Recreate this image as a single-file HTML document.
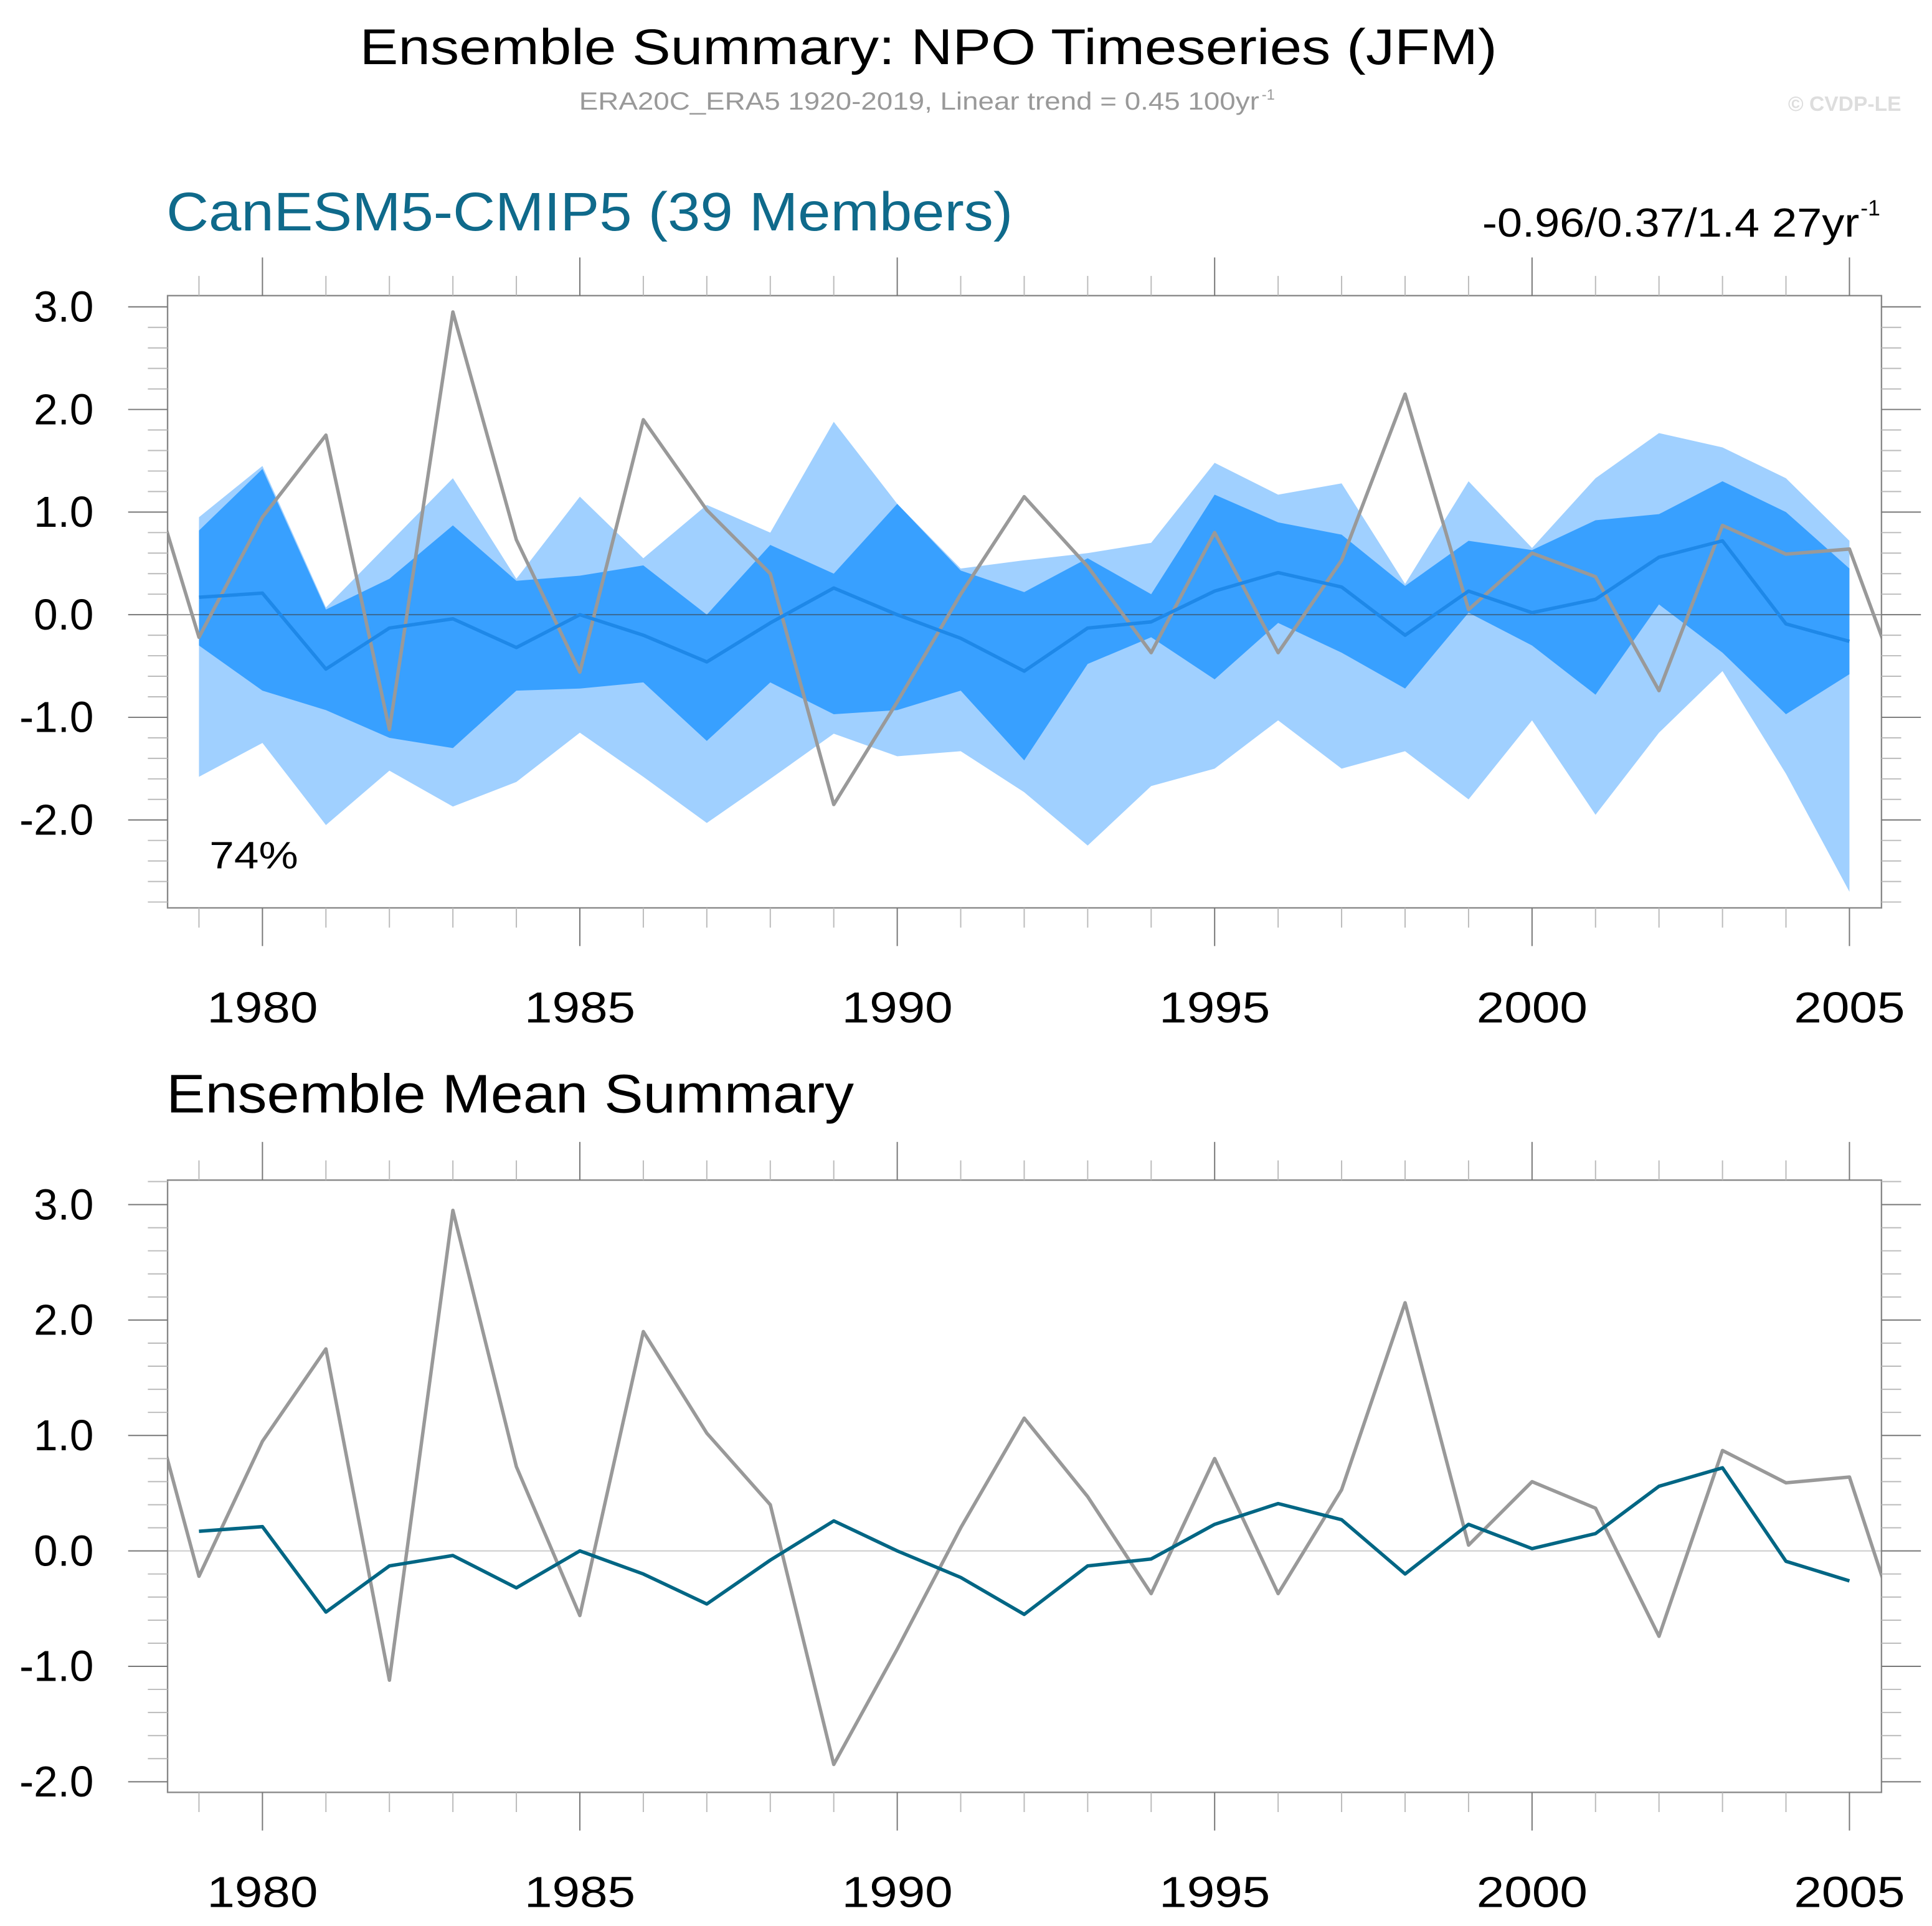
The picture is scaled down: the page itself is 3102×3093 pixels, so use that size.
<!DOCTYPE html>
<html><head><meta charset="utf-8"><style>
html,body{margin:0;padding:0;background:#fff}
svg{display:block}
text{font-family:"Liberation Sans",sans-serif}
</style></head><body>
<svg id="chart" width="3102" height="3093" viewBox="0 0 1568 1563.5" preserveAspectRatio="none" xmlns="http://www.w3.org/2000/svg">
<text x="292" y="52" font-size="41" textLength="923" lengthAdjust="spacingAndGlyphs">Ensemble Summary: NPO Timeseries (JFM)</text>
<text x="470" y="89" font-size="20" fill="#999" textLength="552" lengthAdjust="spacingAndGlyphs">ERA20C_ERA5 1920-2019, Linear trend = 0.45 100yr</text>
<text x="1024" y="81" font-size="12" fill="#999">-1</text>
<text x="1543" y="90" font-size="17" font-weight="bold" fill="#ddd" text-anchor="end">© CVDP-LE</text>
<text x="135" y="187" font-size="44" fill="#0f6a8b" textLength="687" lengthAdjust="spacingAndGlyphs">CanESM5-CMIP5 (39 Members)</text>
<text x="1203" y="192" font-size="33" textLength="306" lengthAdjust="spacingAndGlyphs">-0.96/0.37/1.4 27yr</text>
<text x="1510" y="175" font-size="18">-1</text>
<text x="135" y="903" font-size="44" textLength="558" lengthAdjust="spacingAndGlyphs">Ensemble Mean Summary</text>
<g id="top"></g>
<g id="bot"></g>
</svg>
<script>
const years = [1979,1980,1981,1982,1983,1984,1985,1986,1987,1988,1989,1990,1991,1992,1993,1994,1995,1996,1997,1998,1999,2000,2001,2002,2003,2004,2005];
const obsYears = [1978,1979,1980,1981,1982,1983,1984,1985,1986,1987,1988,1989,1990,1991,1992,1993,1994,1995,1996,1997,1998,1999,2000,2001,2002,2003,2004,2005,2006];
const obsValues = [1.82,-0.22,0.95,1.75,-1.12,2.95,0.73,-0.56,1.9,1.02,0.4,-1.85,-0.85,0.2,1.15,0.47,-0.37,0.8,-0.37,0.53,2.15,0.05,0.6,0.37,-0.74,0.87,0.59,0.64,-1.04];
const ensMean = [0.17,0.21,-0.53,-0.13,-0.04,-0.32,0.0,-0.2,-0.46,-0.08,0.26,0.0,-0.23,-0.55,-0.13,-0.07,0.23,0.41,0.27,-0.2,0.23,0.02,0.15,0.56,0.72,-0.09,-0.26];
const lightUpper = [0.95,1.45,0.07,0.7,1.33,0.35,1.15,0.55,1.07,0.8,1.88,1.08,0.45,0.53,0.6,0.7,1.48,1.17,1.28,0.3,1.3,0.65,1.33,1.77,1.63,1.33,0.72];
const darkUpper = [0.82,1.42,0.05,0.35,0.87,0.33,0.38,0.48,0.0,0.68,0.4,1.08,0.43,0.22,0.55,0.2,1.17,0.9,0.78,0.28,0.72,0.63,0.92,0.98,1.3,1.0,0.45];
const darkLower = [-0.3,-0.74,-0.93,-1.2,-1.3,-0.74,-0.72,-0.66,-1.23,-0.66,-0.97,-0.93,-0.74,-1.42,-0.48,-0.22,-0.63,-0.08,-0.37,-0.72,0.02,-0.3,-0.78,0.1,-0.37,-0.97,-0.58];
const lightLower = [-1.58,-1.25,-2.05,-1.52,-1.87,-1.63,-1.15,-1.58,-2.03,-1.6,-1.16,-1.38,-1.33,-1.73,-2.25,-1.67,-1.5,-1.03,-1.5,-1.33,-1.8,-1.03,-1.95,-1.15,-0.55,-1.55,-2.7];
const yTickLabels = ["3.0","2.0","1.0","0.0","-1.0","-2.0"];
const xTickLabels = ["1980","1985","1990","1995","2000","2005"];

const NS='http://www.w3.org/2000/svg';
function mk(parent,tag,attrs){const e=document.createElementNS(NS,tag);for(const k in attrs)e.setAttribute(k,attrs[k]);parent.appendChild(e);return e;}
const L=136,R=1527;
const xs=y=>213+(y-1980)*51.52;

function panel(g,top,bot,y0,unit,ymin,ymax,labelY,idp){
  const ys=v=>y0-v*unit;
  const clip=mk(document.querySelector('svg'),'clipPath',{id:'clip'+idp});
  mk(clip,'rect',{x:L,y:top,width:R-L,height:bot-top});
  const inner=mk(g,'g',{'clip-path':'url(#clip'+idp+')'});
  return {ys,inner,fin:function(){
    const fr=mk(g,'rect',{x:L,y:top,width:R-L,height:bot-top,fill:'none',stroke:'#888','stroke-width':1.2});
    
    
    for(let k=Math.round(ymin*5);k<=Math.round(ymax*5);k++){
      const v=k/5,y=ys(v);if(y<top-0.5||y>bot+0.5)continue;
      const major=k%5===0,len=major?32:16;
      const c=major?'#777':'#bbb';
      const t1=mk(g,'line',{x1:L-len,x2:L,y1:y,y2:y,stroke:c,'stroke-width':1});
      
      
      const t2=mk(g,'line',{x1:R,x2:R+len,y1:y,y2:y,stroke:c,'stroke-width':1});
      
      
    }
    yTickLabels.forEach(s=>{const v=parseFloat(s),y=ys(v);if(y<top-15||y>bot+15)return;
      const t=mk(g,'text',{x:76,y:y+12,'font-size':35,'text-anchor':'end'});t.textContent=s;
      
      });
    for(let yr=1979;yr<=2005;yr++){
      const x=xs(yr),major=yr%5===0,len=major?31:16,c=major?'#777':'#bbb';
      const a=mk(g,'line',{x1:x,x2:x,y1:top-len,y2:top,stroke:c,'stroke-width':1});
      
      
      const b=mk(g,'line',{x1:x,x2:x,y1:bot,y2:bot+len,stroke:c,'stroke-width':1});
      
      
    }
    xTickLabels.forEach(s=>{const t=mk(g,'text',{x:xs(+s)-45,y:labelY,'font-size':35,textLength:90,lengthAdjust:'spacingAndGlyphs'});t.textContent=s;
      
      });
  }};
}
function band(p,up,lo,fill,name){
  let d='';years.forEach((y,i)=>{d+=(i?'L':'M')+xs(y)+','+p.ys(up[i]);});
  for(let i=years.length-1;i>=0;i--)d+='L'+xs(years[i])+','+p.ys(lo[i]);
  const e=mk(p.inner,'path',{d:d+'Z',fill:fill});
  
  
}
function line(p,xv,vals,stroke,w,name){
  const e=mk(p.inner,'polyline',{points:xv.map((y,i)=>xs(y)+','+p.ys(vals[i])).join(' '),fill:'none',stroke:stroke,'stroke-width':w,'stroke-linejoin':'round'});
  
  
}
function zero(p,c,name){
  const e=mk(p.inner,'line',{x1:L,x2:R,y1:p.ys(0),y2:p.ys(0),stroke:c,'stroke-width':1});
  
  
}
const gt=document.getElementById('top');
const pt=panel(gt,240,737,499,83.3,-2.85,3.1,830,'t');
band(pt,lightUpper,lightLower,'#a0d0ff','range-band-light');
band(pt,darkUpper,darkLower,'#38a0ff','range-band-dark');
zero(pt,'rgba(60,60,60,0.55)','zero-line');
line(pt,obsYears,obsValues,'#999',2.8,'observed-line');
line(pt,years,ensMean,'#1e88e8',2.8,'ensemble-mean-line');
pt.fin();
const pct=mk(gt,'text',{x:170,y:705,'font-size':31,textLength:72,lengthAdjust:'spacingAndGlyphs'});pct.textContent='74%';


const gb=document.getElementById('bot');
const pb=panel(gb,958,1455,1259,93.7,-2.09,3.21,1548,'b');
zero(pb,'#ccc','zero-line');
line(pb,obsYears,obsValues,'#999',2.8,'observed-line');
line(pb,years,ensMean,'#006684',2.8,'ensemble-mean-line');
pb.fin();
</script>
</body></html>
